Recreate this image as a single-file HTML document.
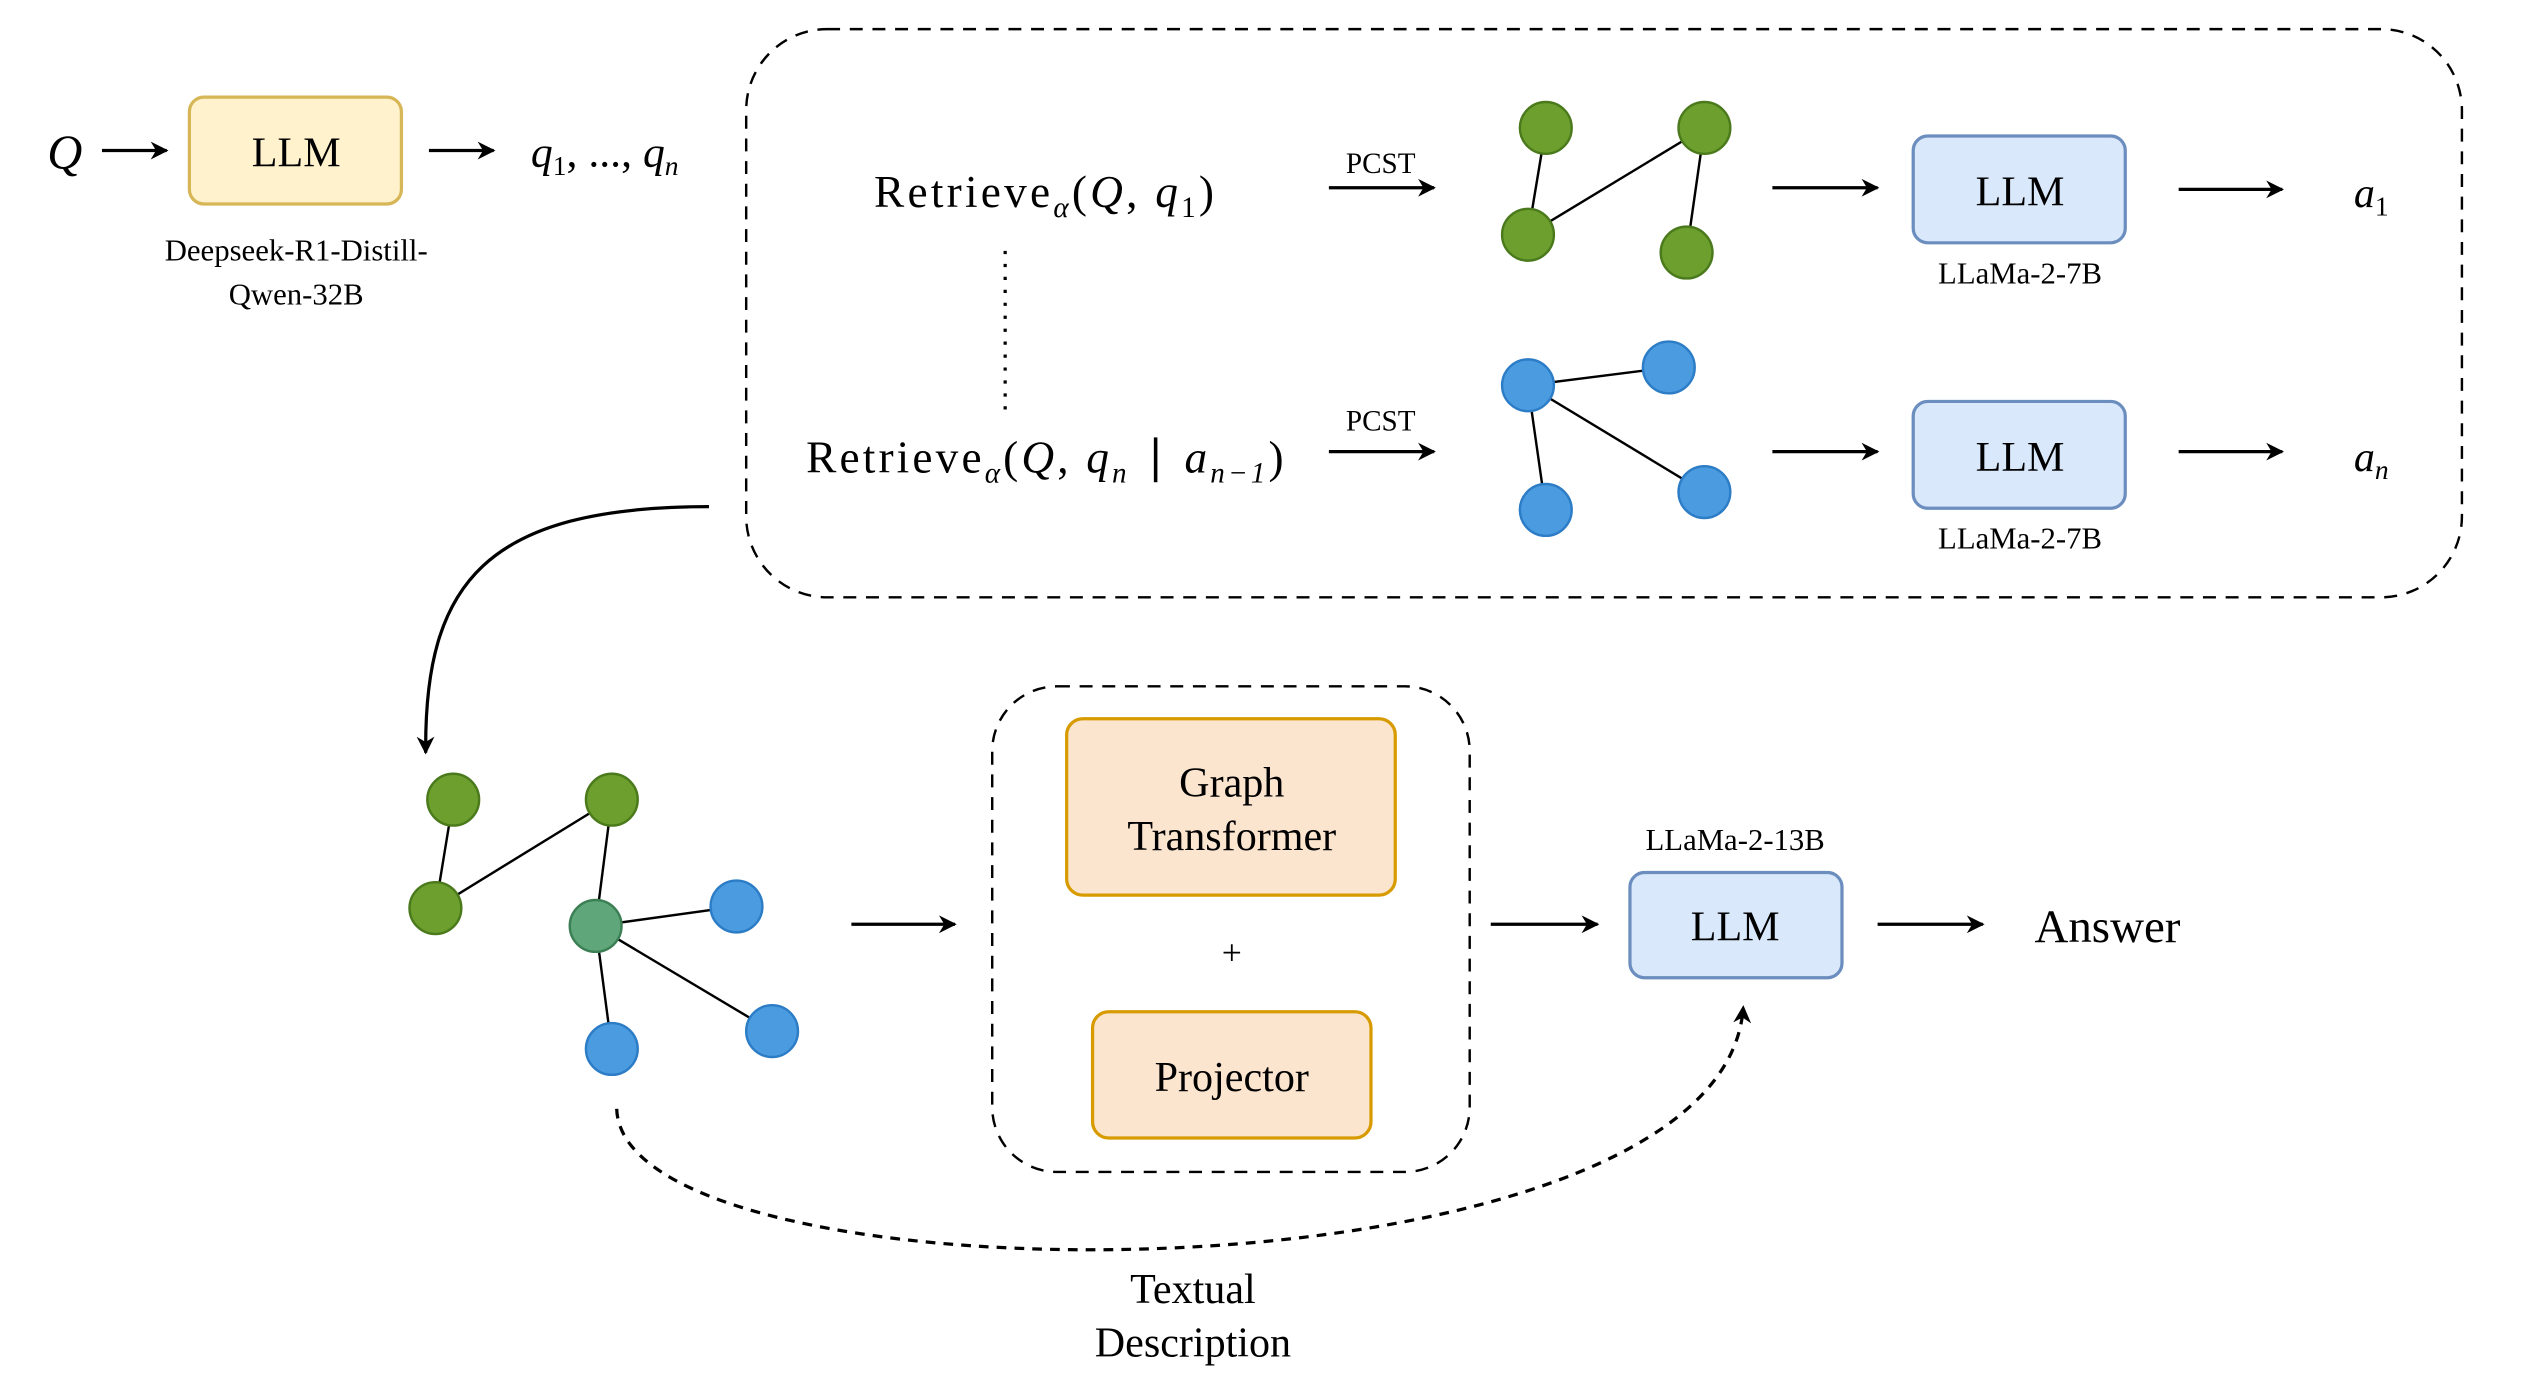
<!DOCTYPE html>
<html><head><meta charset="utf-8"><style>
html,body{margin:0;padding:0;background:#fff;}
svg{display:block;}
text{font-family:"Liberation Serif",serif;fill:#000;}
</style></head><body>
<svg width="2538" height="1384" viewBox="0 0 1568 855" preserveAspectRatio="none" xmlns="http://www.w3.org/2000/svg">
<defs>
<marker id="ah2" viewBox="0 0 10 10" refX="9" refY="5" markerWidth="11" markerHeight="11" orient="auto" markerUnits="userSpaceOnUse">
<path d="M0,0 L10,5 L0,10 L3,5 z" fill="#000"/></marker>
</defs>
<g stroke="#000" stroke-width="2" fill="none" marker-end="url(#ah2)">
<line x1="63" y1="93" x2="103" y2="93"/>
<line x1="265" y1="93" x2="305" y2="93"/>
<line x1="821" y1="116" x2="886" y2="116"/>
<line x1="821" y1="279" x2="886" y2="279"/>
<line x1="1095" y1="116" x2="1160" y2="116"/>
<line x1="1095" y1="279" x2="1160" y2="279"/>
<line x1="1346" y1="117" x2="1410" y2="117"/>
<line x1="1346" y1="279" x2="1410" y2="279"/>
<line x1="526" y1="571" x2="590" y2="571"/>
<line x1="921" y1="571" x2="987" y2="571"/>
<line x1="1160" y1="571" x2="1225" y2="571"/>
<path d="M438 313 C 300 313 262 360 263 465"/>
<path d="M381 685 C 385 810 1065 810 1077 622" stroke-dasharray="6,5"/>
</g>
<text x="40" y="104" font-size="30" font-style="italic" text-anchor="middle">Q</text>
<rect x="117" y="60" width="131" height="66" rx="9" fill="#fff2cc" stroke="#d6b656" stroke-width="2"/>
<text x="183" y="103" font-size="26" text-anchor="middle">LLM</text>
<text x="183" y="161" font-size="19" text-anchor="middle">Deepseek-R1-Distill-</text>
<text x="183" y="188" font-size="19" text-anchor="middle">Qwen-32B</text>
<text x="328" y="103" font-size="27" font-style="italic">q<tspan font-size="17" dy="5" font-style="normal">1</tspan><tspan dy="-5" font-style="normal">, ..., </tspan>q<tspan font-size="17" dy="5">n</tspan></text>
<rect x="461" y="18" width="1060" height="351" rx="50" fill="none" stroke="#000" stroke-width="1.5" stroke-dasharray="8,6"/>
<text x="540" y="128" font-size="28" textLength="210" lengthAdjust="spacing">Retrieve<tspan font-size="18" dy="6" font-style="italic">α</tspan><tspan dy="-6">(</tspan><tspan font-style="italic">Q</tspan>, <tspan font-style="italic">q</tspan><tspan font-size="18" dy="6">1</tspan><tspan dy="-6">)</tspan></text>
<line x1="621" y1="155" x2="621" y2="255" stroke="#000" stroke-width="2" stroke-dasharray="2,6"/>
<text x="498" y="292" font-size="28" textLength="295" lengthAdjust="spacing">Retrieve<tspan font-size="18" dy="6" font-style="italic">α</tspan><tspan dy="-6">(</tspan><tspan font-style="italic">Q</tspan>, <tspan font-style="italic">q</tspan><tspan font-size="18" dy="6" font-style="italic">n</tspan><tspan dy="-6"> ∣ </tspan><tspan font-style="italic">a</tspan><tspan font-size="18" dy="6" font-style="italic">n−1</tspan><tspan dy="-6">)</tspan></text>
<text x="853" y="107" font-size="18" text-anchor="middle">PCST</text>
<text x="853" y="266" font-size="18" text-anchor="middle">PCST</text>
<g stroke="#000" stroke-width="1.5">
<line x1="955" y1="79" x2="944" y2="145"/><line x1="1053" y1="79" x2="944" y2="145"/><line x1="1053" y1="79" x2="1042" y2="156"/>
<line x1="944" y1="238" x2="1031" y2="227"/><line x1="944" y1="238" x2="955" y2="315"/><line x1="944" y1="238" x2="1053" y2="304"/>
<line x1="280" y1="494" x2="269" y2="561"/><line x1="378" y1="494" x2="269" y2="561"/><line x1="378" y1="494" x2="368" y2="572"/>
<line x1="368" y1="572" x2="455" y2="560"/><line x1="368" y1="572" x2="378" y2="648"/><line x1="368" y1="572" x2="477" y2="637"/>
</g>
<g fill="#6d9f2e" stroke="#4b7a1d" stroke-width="1.5">
<circle cx="955" cy="79" r="16"/><circle cx="1053" cy="79" r="16"/><circle cx="944" cy="145" r="16"/><circle cx="1042" cy="156" r="16"/>
<circle cx="280" cy="494" r="16"/><circle cx="378" cy="494" r="16"/><circle cx="269" cy="561" r="16"/>
</g>
<circle cx="368" cy="572" r="16" fill="#5fa77b" stroke="#3d7f55" stroke-width="1.5"/>
<g fill="#4a9be0" stroke="#2c7cc6" stroke-width="1.5">
<circle cx="944" cy="238" r="16"/><circle cx="1031" cy="227" r="16"/><circle cx="955" cy="315" r="16"/><circle cx="1053" cy="304" r="16"/>
<circle cx="455" cy="560" r="16"/><circle cx="378" cy="648" r="16"/><circle cx="477" cy="637" r="16"/>
</g>
<rect x="1182" y="84" width="131" height="66" rx="9" fill="#dae8fc" stroke="#6c8ebf" stroke-width="2"/>
<text x="1248" y="127" font-size="26" text-anchor="middle">LLM</text>
<text x="1248" y="175" font-size="19" text-anchor="middle">LLaMa-2-7B</text>
<rect x="1182" y="248" width="131" height="66" rx="9" fill="#dae8fc" stroke="#6c8ebf" stroke-width="2"/>
<text x="1248" y="291" font-size="26" text-anchor="middle">LLM</text>
<text x="1248" y="339" font-size="19" text-anchor="middle">LLaMa-2-7B</text>
<text x="1465" y="128" font-size="26" font-style="italic" text-anchor="middle">a<tspan font-size="17" dy="5" font-style="normal">1</tspan></text>
<text x="1465" y="291" font-size="26" font-style="italic" text-anchor="middle">a<tspan font-size="17" dy="5">n</tspan></text>
<rect x="613" y="424" width="295" height="300" rx="40" fill="none" stroke="#000" stroke-width="1.5" stroke-dasharray="8,6"/>
<rect x="659" y="444" width="203" height="109" rx="10" fill="#fbe5cf" stroke="#d79b00" stroke-width="2"/>
<text x="761" y="492" font-size="26" text-anchor="middle">Graph</text>
<text x="761" y="525" font-size="26" text-anchor="middle">Transformer</text>
<text x="761" y="596" font-size="22" text-anchor="middle">+</text>
<rect x="675" y="625" width="172" height="78" rx="10" fill="#fbe5cf" stroke="#d79b00" stroke-width="2"/>
<text x="761" y="674" font-size="26" text-anchor="middle">Projector</text>
<text x="1072" y="525" font-size="19" text-anchor="middle">LLaMa-2-13B</text>
<rect x="1007" y="539" width="131" height="65" rx="9" fill="#dae8fc" stroke="#6c8ebf" stroke-width="2"/>
<text x="1072" y="581" font-size="26" text-anchor="middle">LLM</text>
<text x="1302" y="582" font-size="29" text-anchor="middle">Answer</text>
<text x="737" y="805" font-size="26" text-anchor="middle">Textual</text>
<text x="737" y="838" font-size="26" text-anchor="middle">Description</text>
</svg>
</body></html>
